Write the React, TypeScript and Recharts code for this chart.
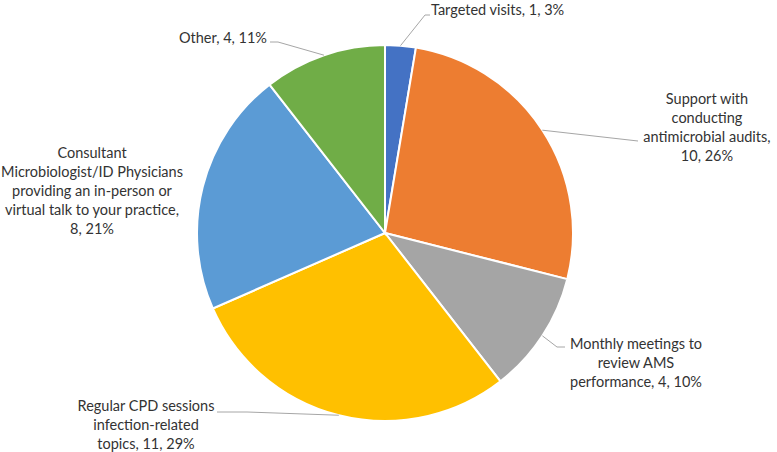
import React from 'react';
import { PieChart, Pie, Cell } from 'recharts';

// Support options requested by practices (count of responses)
const categories = [
  'Targeted visits',
  'Support with\nconducting\nantimicrobial audits',
  'Monthly meetings to\nreview AMS\nperformance',
  'Regular CPD sessions\ninfection-related\ntopics',
  'Consultant\nMicrobiologist/ID Physicians\nproviding an in-person or\nvirtual talk to your practice',
  'Other',
];
const counts = [1, 10, 4, 11, 8, 4];
const percentLabels = ['3%', '26%', '10%', '29%', '21%', '11%'];
const colors = ['#4472C4', '#ED7D31', '#A5A5A5', '#FFC000', '#5B9BD5', '#70AD47'];

const data = categories.map((name, i) => ({ name, value: counts[i], pct: percentLabels[i] }));

// Label placement relative to the pie centre: text anchor point, first-line offset,
// and leader-line bend points (null = no leader line).
type LabelLayout = {
  dx: number;
  dy: number;
  anchor: 'start' | 'middle' | 'end';
  valueOnNewLine: boolean;
  bend: [number, number][] | null;
};
const labelLayouts: LabelLayout[] = [
  { dx: 46, dy: -224, anchor: 'start', valueOnNewLine: false, bend: [[40, -218], [45, -218]] },
  { dx: 322, dy: -135, anchor: 'middle', valueOnNewLine: true, bend: [[253, -92]] },
  { dx: 251, dy: 110, anchor: 'middle', valueOnNewLine: false, bend: [[172, 114], [180, 114]] },
  { dx: -239, dy: 172, anchor: 'middle', valueOnNewLine: false, bend: [[-138, 179], [-168, 179]] },
  { dx: -293, dy: -81, anchor: 'middle', valueOnNewLine: true, bend: null },
  { dx: -118, dy: -196, anchor: 'end', valueOnNewLine: false, bend: [[-107, -191], [-115, -191]] },
];

const FONT = 'Lato, "Open Sans", sans-serif';
const LINE_H = 19;
const RAD = Math.PI / 180;

const renderLabel = (props: any) => {
  const { cx, cy, midAngle, outerRadius, index, payload, value } = props;
  const layout = labelLayouts[index];
  const name: string = payload?.name ?? data[index].name;
  const pct: string = payload?.pct ?? data[index].pct;
  const lines = name.split('\n');
  const tail = `${value}, ${pct}`;
  if (layout.valueOnNewLine) {
    lines[lines.length - 1] += ',';
    lines.push(tail);
  } else {
    lines[lines.length - 1] += `, ${tail}`;
  }
  const ex = cx + outerRadius * Math.cos(-midAngle * RAD);
  const ey = cy + outerRadius * Math.sin(-midAngle * RAD);
  let path: string | null = null;
  if (layout.bend) {
    path = `M${ex},${ey}` + layout.bend.map(([bx, by]) => ` L${cx + bx},${cy + by}`).join('');
  }
  return (
    <g key={`lbl-${index}`}>
      {path && <path d={path} fill="none" stroke="#A6A6A6" strokeWidth={1} />}
      <text
        x={cx + layout.dx}
        y={cy + layout.dy}
        textAnchor={layout.anchor}
        fontFamily={FONT}
        fontSize={14.5}
        fill="#333333"
        dominantBaseline="central"
      >
        {lines.map((ln, k) => (
          <tspan key={k} x={cx + layout.dx} dy={k === 0 ? 0 : LINE_H}>
            {ln}
          </tspan>
        ))}
      </text>
    </g>
  );
};

export default function App() {
  return (
    <div style={{ position: 'absolute', left: 0, top: 0, width: 777, height: 452, background: '#fff' }}>
      <PieChart width={777} height={452} margin={{ top: 0, right: 0, bottom: 0, left: 0 }}>
        <Pie
          data={data}
          dataKey="value"
          nameKey="name"
          cx={385}
          cy={233}
          outerRadius={188}
          startAngle={90}
          endAngle={-270}
          stroke="#FFFFFF"
          strokeWidth={2}
          label={renderLabel}
          labelLine={false}
          isAnimationActive={false}
        >
          {data.map((d, i) => (
            <Cell key={d.name} fill={colors[i]} />
          ))}
        </Pie>
      </PieChart>
    </div>
  );
}
